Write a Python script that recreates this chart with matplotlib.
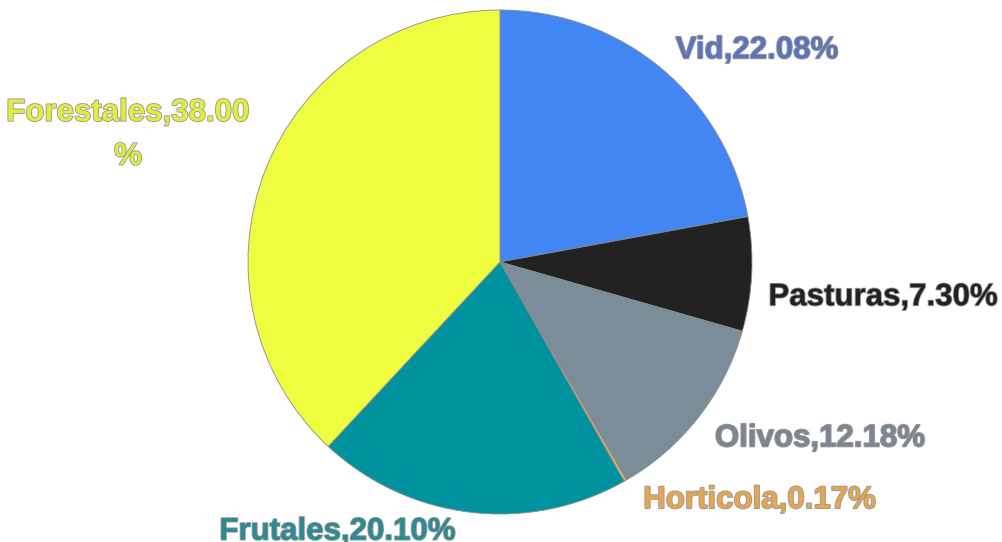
import matplotlib.pyplot as plt
import matplotlib.patheffects as pe

labels = ['Vid', 'Pasturas', 'Olivos', 'Horticola', 'Frutales', 'Forestales']
values = [22.08, 7.30, 12.18, 0.17, 20.10, 38.00]
label_texts = ['Vid,22.08%', 'Pasturas,7.30%', 'Olivos,12.18%',
               'Horticola,0.17%', 'Frutales,20.10%', 'Forestales,38.00\n%']

wedge_colors = ['#4286F4', '#222222', '#7A8D98', '#E4B36A', '#00929E', '#EEFD40']
text_colors = ['#5B74BD', '#222222', '#7D8690', '#E6A54E', '#2B8A92', '#E2EE3C']
# label centres in axis units (pie radius = 1)
label_pos = [(1.02, 0.84), (1.52, -0.14), (1.27, -0.70),
             (1.03, -0.945), (-0.645, -1.07), (-1.476, 0.505)]

plt.rcParams['font.family'] = ['Liberation Sans', 'DejaVu Sans']

fig = plt.figure(figsize=(10.02, 5.42), dpi=100)
ax = fig.add_axes([248 / 1002, 28 / 542, 504 / 1002, 504 / 542])
ax.pie(values, colors=wedge_colors, startangle=90, counterclock=False,
       wedgeprops=dict(edgecolor='#8a8a8a', linewidth=0.6))
ax.set_xlim(-1, 1)
ax.set_ylim(-1, 1)
ax.set_aspect('equal')
ax.axis('off')

for txt, col, (x, y) in zip(label_texts, text_colors, label_pos):
    ax.text(x, y, txt, color=col, fontsize=22.5, fontweight='bold',
            ha='center', va='center', linespacing=1.6, clip_on=False,
            path_effects=[pe.withStroke(linewidth=1.3, foreground='#9a9a9a')])

fig.savefig('out.png', dpi=100)
